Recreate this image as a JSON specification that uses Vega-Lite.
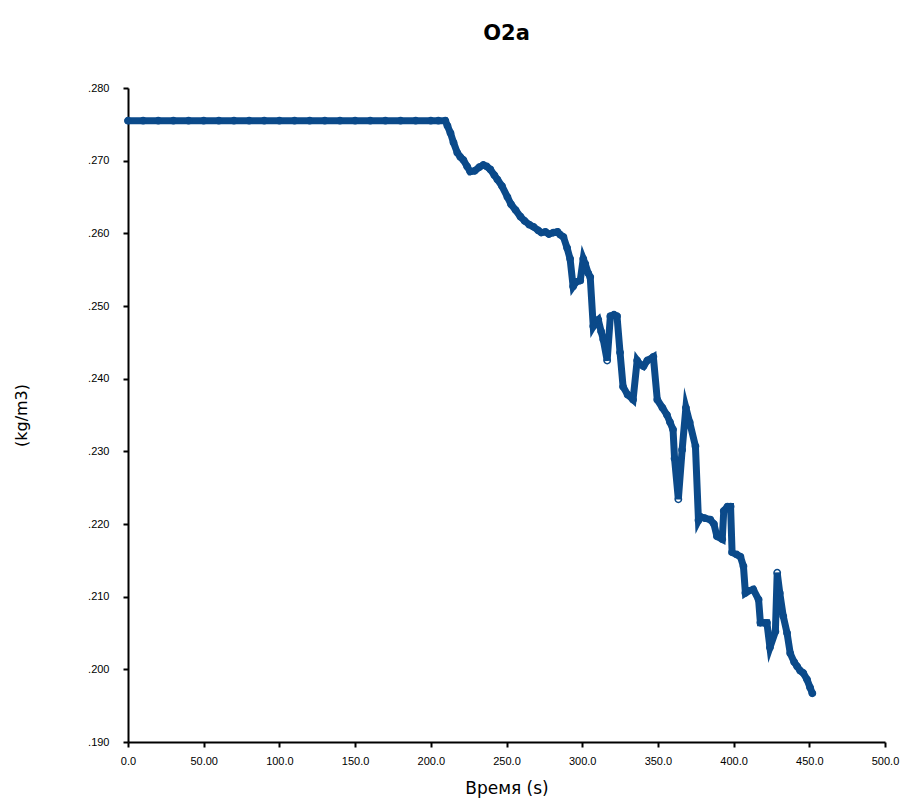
{
  "$schema": "https://vega.github.io/schema/vega-lite/v6.json",
  "width": 757,
  "height": 654,
  "autosize": {"type": "none"},
  "padding": {"left": 128, "top": 88, "right": 24, "bottom": 64},
  "background": "white",
  "title": {"text": "O2a", "fontSize": 21, "font": "DejaVu Sans", "fontWeight": "bold", "color": "black", "anchor": "middle", "offset": 38},
  "config": {
    "view": {"stroke": null},
    "axis": {
      "domainColor": "black", "domainWidth": 2, "tickColor": "black", "tickWidth": 2, "tickSize": 5,
      "grid": false, "labelFont": "Liberation Sans", "labelFontSize": 11, "labelColor": "black",
      "titleFont": "DejaVu Sans", "titleFontWeight": "normal", "titleColor": "black"
    }
  },
  "data": {"values": [
    {"t": 0, "v": 0.2755}, {"t": 10, "v": 0.2755}, {"t": 20, "v": 0.2755}, {"t": 30, "v": 0.2755}, {"t": 40, "v": 0.2755},
    {"t": 50, "v": 0.2755}, {"t": 60, "v": 0.2755}, {"t": 70, "v": 0.2755}, {"t": 80, "v": 0.2755}, {"t": 90, "v": 0.2755},
    {"t": 100, "v": 0.2755}, {"t": 110, "v": 0.2755}, {"t": 120, "v": 0.2755}, {"t": 130, "v": 0.2755}, {"t": 140, "v": 0.2755},
    {"t": 150, "v": 0.2755}, {"t": 160, "v": 0.2755}, {"t": 170, "v": 0.2755}, {"t": 180, "v": 0.2755}, {"t": 190, "v": 0.2755},
    {"t": 200, "v": 0.2755}, {"t": 205, "v": 0.2755}, {"t": 209.6, "v": 0.2755},
    {"t": 211, "v": 0.2748}, {"t": 213, "v": 0.2738}, {"t": 215, "v": 0.2725}, {"t": 217.5, "v": 0.2711},
    {"t": 219.5, "v": 0.2705}, {"t": 221.5, "v": 0.2701}, {"t": 224, "v": 0.2692}, {"t": 226, "v": 0.2685},
    {"t": 229, "v": 0.2686}, {"t": 232, "v": 0.2691}, {"t": 234.7, "v": 0.2694}, {"t": 237, "v": 0.2692},
    {"t": 239.3, "v": 0.2688}, {"t": 242, "v": 0.268}, {"t": 244, "v": 0.2674}, {"t": 247, "v": 0.2665},
    {"t": 250.6, "v": 0.265}, {"t": 253, "v": 0.264}, {"t": 256, "v": 0.2632}, {"t": 259.2, "v": 0.2623},
    {"t": 262, "v": 0.2617}, {"t": 265, "v": 0.2612}, {"t": 267.8, "v": 0.2609}, {"t": 271, "v": 0.2604},
    {"t": 273, "v": 0.2601}, {"t": 275.7, "v": 0.2602}, {"t": 278, "v": 0.2599}, {"t": 281, "v": 0.2601},
    {"t": 283.7, "v": 0.2602}, {"t": 285.5, "v": 0.2598}, {"t": 287.6, "v": 0.2595}, {"t": 290, "v": 0.258},
    {"t": 292, "v": 0.2565}, {"t": 294, "v": 0.2527}, {"t": 296, "v": 0.2533}, {"t": 298.7, "v": 0.2535},
    {"t": 300.7, "v": 0.2565}, {"t": 302, "v": 0.2558}, {"t": 304, "v": 0.2545}, {"t": 305.3, "v": 0.254},
    {"t": 307.3, "v": 0.2472}, {"t": 309, "v": 0.2478}, {"t": 310.6, "v": 0.2481}, {"t": 312.5, "v": 0.2465},
    {"t": 313.9, "v": 0.2454}, {"t": 316.5, "v": 0.2425}, {"t": 318.6, "v": 0.2486}, {"t": 321, "v": 0.2488},
    {"t": 323, "v": 0.2486}, {"t": 325, "v": 0.2436}, {"t": 327, "v": 0.2389}, {"t": 330, "v": 0.2378},
    {"t": 333.6, "v": 0.2371}, {"t": 336.3, "v": 0.2425}, {"t": 338, "v": 0.242}, {"t": 340.5, "v": 0.2417},
    {"t": 343, "v": 0.2425}, {"t": 347, "v": 0.243}, {"t": 349.6, "v": 0.2371}, {"t": 353, "v": 0.236},
    {"t": 356, "v": 0.235}, {"t": 358, "v": 0.234}, {"t": 360, "v": 0.233}, {"t": 361, "v": 0.229},
    {"t": 363.5, "v": 0.2234}, {"t": 366, "v": 0.2302}, {"t": 368.5, "v": 0.236}, {"t": 371, "v": 0.234},
    {"t": 374.8, "v": 0.2307}, {"t": 376.8, "v": 0.2205}, {"t": 378, "v": 0.221}, {"t": 381, "v": 0.2208},
    {"t": 384.6, "v": 0.2206}, {"t": 387, "v": 0.22}, {"t": 389, "v": 0.2183}, {"t": 392.5, "v": 0.2179},
    {"t": 393.5, "v": 0.2218}, {"t": 396, "v": 0.2224}, {"t": 398, "v": 0.2224}, {"t": 399, "v": 0.2161},
    {"t": 402, "v": 0.2158}, {"t": 404.5, "v": 0.2155}, {"t": 406.5, "v": 0.2142}, {"t": 407.8, "v": 0.2105},
    {"t": 410, "v": 0.2108}, {"t": 413, "v": 0.211}, {"t": 416.5, "v": 0.2096}, {"t": 417.7, "v": 0.2064},
    {"t": 420, "v": 0.2064}, {"t": 422, "v": 0.2064}, {"t": 424, "v": 0.203}, {"t": 427.6, "v": 0.2052},
    {"t": 428.8, "v": 0.2133}, {"t": 430.5, "v": 0.2105}, {"t": 432.8, "v": 0.2073}, {"t": 435.3, "v": 0.205},
    {"t": 437.4, "v": 0.2022}, {"t": 440, "v": 0.201}, {"t": 442, "v": 0.2004}, {"t": 444, "v": 0.1998},
    {"t": 446, "v": 0.1995}, {"t": 448.5, "v": 0.1986}, {"t": 450.5, "v": 0.1975}, {"t": 452, "v": 0.1967}
  ]},
  "encoding": {
    "x": {"field": "t", "type": "quantitative",
      "scale": {"domain": [0, 500], "nice": false, "zero": false},
      "axis": {"title": "Время (s)", "titleFontSize": 17, "titlePadding": 14,
        "values": [0, 50, 100, 150, 200, 250, 300, 350, 400, 450, 500],
        "labelExpr": "datum.value == 50 ? '50.00' : format(datum.value, '.1f')",
        "labelPadding": 8, "labelFlush": false}},
    "y": {"field": "v", "type": "quantitative",
      "scale": {"domain": [0.19, 0.28], "nice": false, "zero": false},
      "axis": {"title": "(kg/m3)", "titleFontSize": 16, "titlePadding": 58,
        "values": [0.19, 0.2, 0.21, 0.22, 0.23, 0.24, 0.25, 0.26, 0.27, 0.28],
        "labelExpr": "replace(format(datum.value, '.3f'), '0.', '.')",
        "labelPadding": 14}}
  },
  "layer": [
    {"mark": {"type": "line", "color": "#0b4a8a", "strokeWidth": 7, "strokeJoin": "miter", "strokeMiterLimit": 6, "strokeCap": "round"}},
    {"mark": {"type": "point", "color": "#0b4a8a", "filled": false, "size": 40, "strokeWidth": 1.5, "opacity": 1}}
  ]
}
